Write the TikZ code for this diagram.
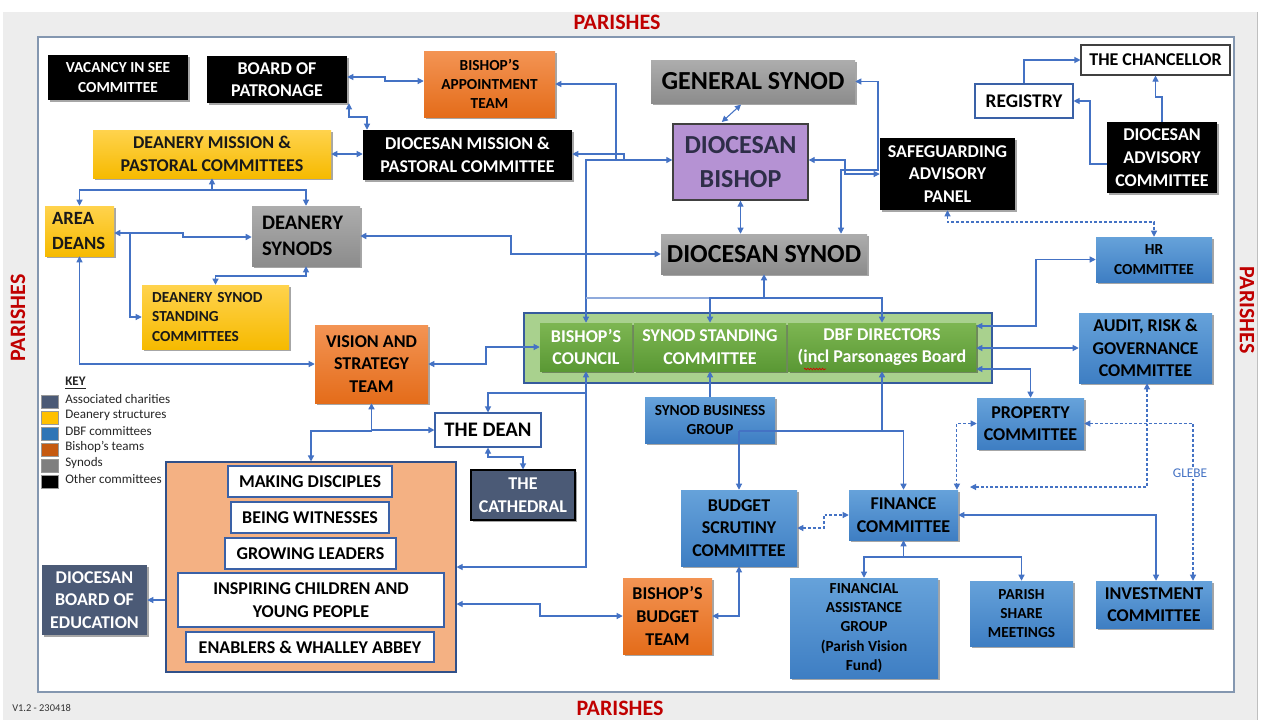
\documentclass[tikz,border=0pt]{standalone}
\usepackage{fontspec}
\setmainfont{Carlito}
\usetikzlibrary{arrows.meta,shadows,decorations.pathmorphing}
\definecolor{lc}{HTML}{4472C4}
\definecolor{bgg}{HTML}{EDEDED}
\definecolor{innerb}{HTML}{8497B0}
\definecolor{bluT}{HTML}{66A2DA}
\definecolor{bluB}{HTML}{3E7EC3}
\definecolor{orT}{HTML}{F39454}
\definecolor{orB}{HTML}{E46C1A}
\definecolor{yeT}{HTML}{FFD34D}
\definecolor{yeB}{HTML}{F6BA00}
\definecolor{grT}{HTML}{ADADAD}
\definecolor{grB}{HTML}{8C8C8C}
\definecolor{gnT}{HTML}{7DB652}
\definecolor{gnB}{HTML}{5A9834}
\definecolor{gcont}{HTML}{A9D18E}
\definecolor{ocont}{HTML}{F4B183}
\definecolor{slate}{HTML}{4B5A76}
\definecolor{purp}{HTML}{B592D3}
\definecolor{bishtext}{HTML}{2E2E48}
\definecolor{parred}{HTML}{C00000}
\definecolor{kdeanery}{HTML}{FFC000}
\definecolor{kdbf}{HTML}{2E75B6}
\definecolor{kbishop}{HTML}{C55A11}
\definecolor{ksynod}{HTML}{7F7F7F}
\begin{document}
\begin{tikzpicture}[x=0.75pt,y=-0.75pt,
  >={Triangle[length=4.5pt,width=4.5pt]},
  wh/.style 2 args={minimum width=#1*0.75pt,minimum height=#2*0.75pt},
  base/.style={rectangle,inner sep=1.5pt,align=center},
  fsS/.style={font=\fontsize{11.5}{14.5}\selectfont\bfseries},
  fsM/.style={font=\fontsize{13.5}{17}\selectfont\bfseries},
  fsL/.style={font=\fontsize{15.5}{19.5}\selectfont\bfseries},
  fsX/.style={font=\fontsize{19.5}{26}\selectfont\bfseries},
  shad/.style={drop shadow={shadow xshift=1.2pt,shadow yshift=-1.4pt,opacity=0.35,fill=black}},
  blk/.style={base,fill=black,text=white,shad},
  blu/.style={base,top color=bluT,bottom color=bluB,text=black,shad},
  org/.style={base,top color=orT,bottom color=orB,text=black,shad},
  yel/.style={base,top color=yeT,bottom color=yeB,text=black!90,shad},
  gry/.style={base,top color=grT,bottom color=grB,text=black,shad},
  grn/.style={base,top color=gnT,bottom color=gnB,text=white,shad},
  slt/.style={base,fill=slate,text=white,shad},
  wht/.style={base,fill=white,draw=lc!85!black,line width=0.8pt},
  conn/.style={draw=lc,line width=0.8pt},
  twoway/.style={conn,<->},
  oneway/.style={conn,->},
  thk/.style={line width=1.4pt},
  dsh/.style={dash pattern=on 2.2pt off 1.5pt},
  par/.style={font=\fontsize{16.5}{18}\selectfont\bfseries,text=parred,inner sep=0pt},
  keyt/.style={anchor=west,font=\fontsize{9.8}{11}\selectfont,text=black!85,inner sep=0pt},
  swatch/.style={draw=black!40,line width=0.4pt,wh={17}{13},inner sep=0pt}
]
\useasboundingbox (0,0) rectangle (1263,722);
\fill[bgg] (3,12) rectangle (1257,720);
\draw[black!25,line width=0.5pt] (1257,12) -- (1257,720);
\draw[innerb,line width=1.1pt,fill=white] (38,37) rectangle (1234,692);

% PARISHES labels
\node[par] (ptop) at (617,22) {PARISHES};
\node[par] (pbot) at (620,708) {PARISHES};
\node[par,rotate=90] (pleft) at (18,318) {PARISHES};
\node[par,rotate=-90] (pright) at (1247,310) {PARISHES};

% containers
\node[fill=gcont,draw=lc!80!black,line width=0.8pt,wh={468}{70}] (gc) at (758,348) {};
\node[fill=ocont,draw=lc!70!black,line width=0.8pt,wh={290}{210}] (oc) at (311,567) {};

% nodes
\node[blk,fsS,wh={140}{45}] (vac) at (118,77.5) {VACANCY IN SEE\\COMMITTEE};
\node[blk,fsM,wh={140}{47}] (bop) at (277,79.5) {BOARD OF\\PATRONAGE};
\node[org,fsS,wh={131}{66}] (bat) at (489.5,84) {BISHOP’S\\APPOINTMENT\\TEAM};
\node[gry,fsX,wh={204}{43}] (gs) at (753,81.5) {GENERAL SYNOD};
\node[wht,fsM,wh={149}{30},draw=black!75] (chanc) at (1155.5,60) {THE CHANCELLOR};
\node[wht,font=\fontsize{14.5}{17}\selectfont\bfseries,wh={98}{34}] (reg) at (1024,101) {REGISTRY};
\node[blk,fsM,wh={110}{71}] (dac) at (1162,157.5) {DIOCESAN\\ADVISORY\\COMMITTEE};
\node[yel,fsM,wh={238}{48}] (dnmpc) at (212,154) {DEANERY MISSION \&\\PASTORAL COMMITTEES};
\node[blk,fsM,wh={209}{50}] (dmpc) at (467.5,155) {DIOCESAN MISSION \&\\PASTORAL COMMITTEE};
\node[base,fill=purp,draw=black!75,line width=1pt,text=bishtext,fsX,wh={135}{76}] (bishop) at (740.5,162) {DIOCESAN\\BISHOP};
\node[blk,fsM,wh={135}{72}] (sap) at (947.5,174) {SAFEGUARDING\\ADVISORY\\PANEL};
\node[yel,font=\fontsize{14}{19}\selectfont\bfseries,wh={69}{50},align=left,text width=41pt,inner xsep=5.25pt] (ad) at (79.5,231) {AREA\\DEANS};
\node[gry,fsL,wh={108}{60},align=left,text width=66pt,inner xsep=7.5pt] (ds) at (306,236) {DEANERY\\SYNODS};
\node[gry,fsX,wh={206}{40}] (dsyn) at (764,254) {DIOCESAN SYNOD};
\node[blu,fsS,wh={116}{45}] (hr) at (1154,259.5) {HR\\COMMITTEE};
\node[yel,fsS,wh={147}{64},align=left,text width=95pt,inner xsep=7.5pt] (dssc) at (215.5,317) {DEANERY SYNOD\\STANDING\\COMMITTEES};
\node[org,fsM,wh={113}{78}] (vs) at (371.5,364) {VISION AND\\STRATEGY\\TEAM};
\node[grn,fsM,wh={92}{48}] (bc) at (586,347) {BISHOP’S\\COUNCIL};
\node[grn,fsM,wh={152}{48}] (ssc) at (710,347) {SYNOD STANDING\\COMMITTEE};
\node[grn,fsM,wh={188}{48}] (dbf) at (882,347) {DBF DIRECTORS\\(incl Parsonages Board};
\node[blu,fsM,wh={133}{70}] (audit) at (1145.5,348) {AUDIT, RISK \&\\GOVERNANCE\\COMMITTEE};
\node[blu,fsS,wh={130}{46}] (sbg) at (710,420) {SYNOD BUSINESS\\GROUP};
\node[blu,fsM,wh={107}{51}] (prop) at (1030.5,423.5) {PROPERTY\\COMMITTEE};
\node[wht,fsL,wh={106}{34}] (dean) at (488,430) {THE DEAN};
\node[slt,fsM,wh={104}{50},draw=black,line width=0.8pt] (cath) at (523,495) {THE\\CATHEDRAL};
\node[wht,fsM,wh={164}{31}] (md) at (310,481.5) {MAKING DISCIPLES};
\node[wht,fsM,wh={158}{31}] (bw) at (310,517.5) {BEING WITNESSES};
\node[wht,fsM,wh={171}{31}] (gl) at (310.5,553.5) {GROWING LEADERS};
\node[wht,fsM,wh={266}{54}] (icyp) at (311,600) {INSPIRING CHILDREN AND\\YOUNG PEOPLE};
\node[wht,fsM,wh={248}{30}] (ewa) at (310,647) {ENABLERS \& WHALLEY ABBEY};
\node[slt,fsM,wh={105}{70}] (dbe) at (94.5,600) {DIOCESAN\\BOARD OF\\EDUCATION};
\node[blu,fsM,wh={116}{76}] (bsc) at (739,528) {BUDGET\\SCRUTINY\\COMMITTEE};
\node[blu,fsM,wh={109}{50}] (fin) at (903.5,515) {FINANCE\\COMMITTEE};
\node[org,fsM,wh={89}{76}] (bbt) at (667.5,616) {BISHOP’S\\BUDGET\\TEAM};
\node[blu,fsS,wh={148}{100}] (fag) at (864,628) {FINANCIAL\\ASSISTANCE\\GROUP\\(Parish Vision\\Fund)};
\node[blu,fsS,wh={103}{65}] (psm) at (1021.5,613.5) {PARISH\\SHARE\\MEETINGS};
\node[blu,fsM,wh={116}{47}] (inv) at (1154,604.5) {INVESTMENT\\COMMITTEE};

% spell-check squiggle under "incl"
\draw[red!85!black,line width=0.5pt,decorate,decoration={snake,amplitude=0.6pt,segment length=2.2pt}] (804,369) -- (826,369);

% key
\node[keyt,font=\fontsize{9.8}{11}\selectfont\bfseries] (key) at (65,383) {\underline{KEY}};
\node[swatch,fill=slate] (s1) at (50,402) {};
\node[swatch,fill=kdeanery] (s2) at (50,418) {};
\node[swatch,fill=kdbf] (s3) at (50,434) {};
\node[swatch,fill=kbishop] (s4) at (50,450) {};
\node[swatch,fill=ksynod] (s5) at (50,466) {};
\node[swatch,fill=black] (s6) at (50,482) {};
\node[keyt] (k1) at (65,399) {Associated charities};
\node[keyt] (k2) at (65,415) {Deanery structures};
\node[keyt] (k3) at (65,431) {DBF committees};
\node[keyt] (k4) at (65,447) {Bishop’s teams};
\node[keyt] (k5) at (65,463) {Synods};
\node[keyt] (k6) at (65,479) {Other committees};
\node[anchor=west,font=\fontsize{7.8}{9}\selectfont,text=black!80,inner sep=0pt] (ver) at (12,708) {V1.2 - 230418};

% connectors
\draw[twoway] (bop.east |- 0,77) -- (385,77) -- (385,81) -- (bat.west |- 0,81);
\draw[twoway] (bop.south -| 349,0) -- (349,117) -- (367,117) -- (dmpc.north -| 367,0);
\draw[twoway] (dnmpc.east) -- (dmpc.west |- dnmpc.east);
\draw[twoway] (bat.east) -- (616,84) -- (616,160) -- (bishop.west |- 0,160);
\draw[oneway] (624,160) -- (624,154) -- (dmpc.east |- 0,154);
\draw[oneway] (616,160) -- (586,160) -- (bc.north);
\draw[twoway] ([xshift=-9pt,yshift=-1pt]gs.south) -- ([xshift=-14pt,yshift=1pt]bishop.north);
\draw[twoway] (bishop.east |- 0,160) -- (845,160) -- (845,174) -- (sap.west |- 0,174);
\draw[twoway] (gs.east) -- (878,81.5) -- (878,170) -- (841,170) -- (dsyn.north -| 841,0);
\draw[oneway] (reg.north) |- (chanc.west);
\draw[oneway] (dac.west |- 0,164) -| (1090,101) -- (reg.east);
\draw[oneway] (dac.north) -- (1162,97) -| (chanc.south);
\draw[twoway] (bishop.south) -- (dsyn.north -| bishop.south);
\draw[twoway,thk] (ds.east) -| (511,254) -- (dsyn.west);
\draw[oneway] (212,190) -- (dnmpc.south);
\draw[oneway] (212,190) -| (ad.north);
\draw[oneway] (212,190) -| (ds.north);
\draw[twoway,thk] (ad.east |- 0,233) -- (183,233) -- (183,237) -- (ds.west |- 0,237);
\draw[oneway] (130,233) |- (dssc.west);
\draw[twoway] (ds.south) -- (306,276) -| (dssc.north);
\draw[twoway] (ad.south) |- (vs.west);
\draw[twoway] (vs.east) -- (486,364) |- (bc.west);
\draw[twoway,thk] (vs.south) |- (dean.west);
\draw[oneway,thk] (371.5,431) -| (oc.north);
\draw[twoway] (bc.south) |- (oc.east |- 0,567);
\draw[oneway] (586,393) -| (dean.north);
\draw[twoway] (dean.south) -- (488,457) -| (cath.north);
\draw[oneway] (oc.west |- dbe.east) -- (dbe.east);
\draw[twoway] (oc.east |- 0,604) -- (540,604) |- (bbt.west);
\draw[twoway] (bbt.east) -| (bsc.south);
\draw[oneway] (sbg.north) -- (ssc.south);
\draw[oneway] (739,431) -- (bsc.north);
\draw[conn] (739,431) -- (882,431);
\draw[twoway,thk] (dbf.south) |- (903.5,431) -- (fin.north);
\draw[twoway,dsh] (bsc.east) -| (824,515) -- (fin.west);
\draw[conn,draw=lc!60] (586,298) -- (710,298);
\draw[oneway,thk] (764,298) -- (dsyn.south);
\draw[oneway,thk] (764,298) -| (ssc.north);
\draw[oneway,thk] (764,298) -| (dbf.north);
\draw[twoway] (dbf.east |- 0,326) -- (1036,326) |- (hr.west);
\draw[twoway] (dbf.east |- 0,348) -- (audit.west |- 0,348);
\draw[twoway] (dbf.east |- 0,369) -| (prop.north);
\draw[twoway,dsh] (prop.west) -| ([xshift=-1pt]fin.north east);
\coordinate (finin) at (970,487);
\draw[twoway,dsh] (audit.south -| 1147,0) |- (finin);
\draw[twoway,dsh] (prop.east) -| (inv.north -| 1193,0);
\draw[twoway] (fin.east) -| (inv.north -| 1156,0);
\draw[oneway] (903.5,557) -- (fin.south);
\draw[oneway] (903.5,557) -| (fag.north);
\draw[oneway] (903.5,557) -| (psm.north);
\draw[twoway,dsh] (sap.south) -- (947.5,222) -| (hr.north);
\node[font=\fontsize{10}{11}\selectfont,text=lc,fill=white,inner sep=1.5pt] (glebe) at (1190,473) {GLEBE};
\end{tikzpicture}
\end{document}
